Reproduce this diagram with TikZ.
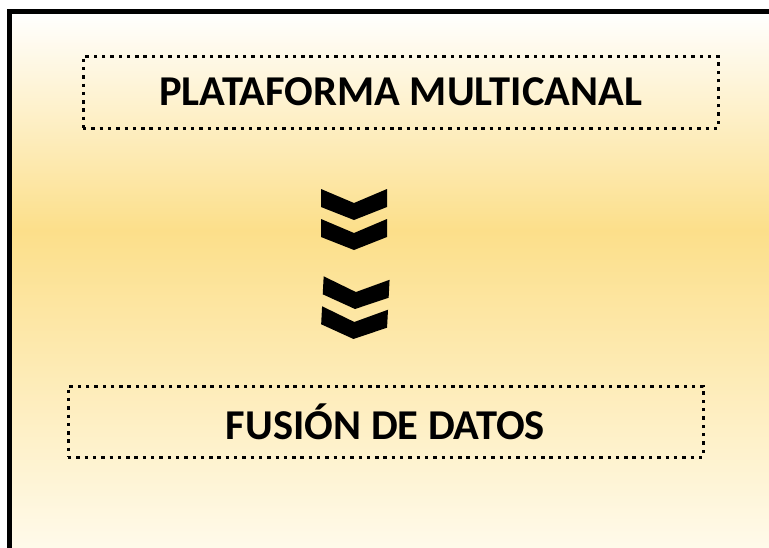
\documentclass[tikz,border=0pt]{standalone}
\usepackage{fontspec}
\setmainfont{Carlito}
\definecolor{gold}{RGB}{252,223,138}
\definecolor{paleend}{RGB}{255,251,238}
\tikzset{
  dotbox/.style={draw=black, line width=3pt, dash pattern=on 3.4pt off 4.9pt, fill=none, inner sep=0pt},
  lbl/.style={font=\fontsize{42.5}{48}\selectfont\bfseries, text=black},
  chev/.style={fill=black, draw=none}
}
\begin{document}
\begin{tikzpicture}[x=1pt,y=-1pt]
\useasboundingbox (0,0) rectangle (769,547);
\fill[white] (0,0) rectangle (769,547);
% background gradient
\shade[top color=white, bottom color=gold] (10,12) rectangle (780,231);
\shade[top color=gold, bottom color=paleend] (10,230) rectangle (780,560);
% frame
\draw[line width=5pt] (9.5,560) -- (9.5,11.5) -- (780,11.5);
% boxes
\node[dotbox, minimum width=635pt, minimum height=72pt] (b1) at (400.5,92) {};
\node[lbl] (t1) at (b1.center) {PLATAFORMA MULTICANAL};
\node[dotbox, minimum width=635pt, minimum height=71pt] (b2) at (385.5,421.5) {};
\node[lbl] (t2) at (b2.center) {FUSIÓN DE DATOS};
% chevrons
\foreach \dy in {0,30}{
  \fill[chev] (321,189+\dy) -- (354,203+\dy) -- (387,189+\dy) -- (387,207+\dy) -- (354,220+\dy) -- (321,207+\dy) -- cycle;
}
\begin{scope}[shift={(0,89)}, rotate around={-3:(355,220)}]
\foreach \dy in {0,30}{
  \fill[chev] (322,189+\dy) -- (355,203+\dy) -- (388,189+\dy) -- (388,207+\dy) -- (355,220+\dy) -- (322,207+\dy) -- cycle;
}
\end{scope}
\end{tikzpicture}
\end{document}
